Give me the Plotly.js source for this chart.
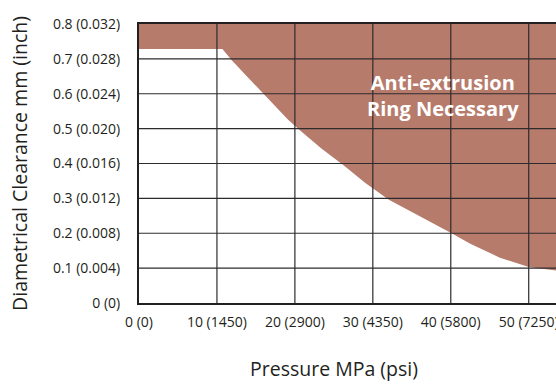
<!DOCTYPE html>
<html>
<head>
<meta charset="utf-8">
<script src="https://cdn.plot.ly/plotly-3.0.1.min.js"></script>
<style>html,body{margin:0;padding:0;background:#fff;}#chart{width:556px;height:386px;}</style>
</head>
<body>
<div id="chart"></div>
<script>
// Boundary curve: maximum clearance without anti-extrusion ring
const pressureMPa = [0, 10.7, 11.9, 16.1, 19.1, 20.9, 23.4, 26.2, 29.0, 32.0, 35.8, 40.1, 42.5, 46.3, 50.0, 53.5];
const clearanceMm = [0.728, 0.728, 0.696, 0.596, 0.526, 0.490, 0.443, 0.396, 0.345, 0.297, 0.252, 0.200, 0.170, 0.130, 0.103, 0.093];
// Top edge of the shaded region
const regionTopX = [0, 53.5];
const regionTopY = [0.8, 0.8];

const xTickVals = [0, 10, 20, 30, 40, 50];
const xTickText = ["0 (0)", "10 (1450)", "20 (2900)", "30 (4350)", "40 (5800)", "50 (7250)"];
const yTickVals = [0, 0.1, 0.2, 0.3, 0.4, 0.5, 0.6, 0.7, 0.8];
const yTickText = ["0 (0)", "0.1 (0.004)", "0.2 (0.008)", "0.3 (0.012)", "0.4 (0.016)", "0.5 (0.020)", "0.6 (0.024)", "0.7 (0.028)", "0.8 (0.032)"];

const xRange = [0, 53.5];
const yRange = [0, 0.8];
const fillColor = "#b77b6c";
const inkColor = "#231f20";
const font = "'Open Sans', sans-serif";

const traces = [
  {x: pressureMPa, y: clearanceMm, type: "scatter", mode: "lines",
   line: {width: 0, color: fillColor}, hoverinfo: "skip", showlegend: false},
  {x: regionTopX, y: regionTopY, type: "scatter", mode: "lines",
   line: {width: 0, color: fillColor}, fill: "tonexty", fillcolor: fillColor,
   hoverinfo: "skip", showlegend: false}
];

const gridShapes = [];
xTickVals.filter(v => v > xRange[0]).forEach(v => gridShapes.push({
  type: "line", xref: "x", yref: "y", x0: v, x1: v, y0: yRange[0], y1: yRange[1],
  line: {color: "#2e2b2c", width: 1.2}, layer: "above"}));
yTickVals.filter(v => v > yRange[0] && v < yRange[1]).forEach(v => gridShapes.push({
  type: "line", xref: "x", yref: "y", x0: xRange[0], x1: xRange[1], y0: v, y1: v,
  line: {color: "#2e2b2c", width: 1.2}, layer: "above"}));

const layout = {
  width: 556, height: 386,
  margin: {l: 139, r: 0, t: 24, b: 83},
  paper_bgcolor: "#fff", plot_bgcolor: "#fff",
  font: {family: font, color: inkColor, size: 14},
  showlegend: false,
  xaxis: {
    range: xRange, tickmode: "array", tickvals: xTickVals, ticktext: xTickText,
    showgrid: false, zeroline: false, showline: true, linecolor: inkColor, linewidth: 2,
    mirror: true, ticks: "outside", ticklen: 5, tickcolor: "rgba(0,0,0,0)",
    ticklabeloverflow: "allow",
    tickfont: {family: font, size: 14, color: inkColor}, layer: "above traces",
    fixedrange: true
  },
  yaxis: {
    range: yRange, tickmode: "array", tickvals: yTickVals, ticktext: yTickText,
    showgrid: false, zeroline: false, showline: true, linecolor: inkColor, linewidth: 2,
    ticks: "outside", ticklen: 14, tickcolor: "rgba(0,0,0,0)",
    ticklabeloverflow: "allow",
    tickfont: {family: font, size: 14, color: inkColor}, layer: "above traces",
    title: {text: "Diametrical Clearance mm (inch)", font: {family: font, size: 19.5, color: inkColor}, standoff: 20},
    fixedrange: true
  },
  shapes: gridShapes,
  annotations: [
    {text: "Anti-extrusion<br>Ring Necessary", xref: "paper", yref: "paper",
     x: 0.73, y: 0.745, xanchor: "center", yanchor: "middle", showarrow: false,
     font: {family: font, size: 20, color: "#ffffff", weight: "bold"}},
    {text: "Pressure MPa (psi)", xref: "paper", yref: "paper",
     x: 0.468, y: -0.235, xanchor: "center", yanchor: "middle", showarrow: false,
     font: {family: font, size: 19.5, color: inkColor}}
  ]
};

Plotly.newPlot("chart", traces, layout, {displayModeBar: false, staticPlot: true});
</script>
</body>
</html>
